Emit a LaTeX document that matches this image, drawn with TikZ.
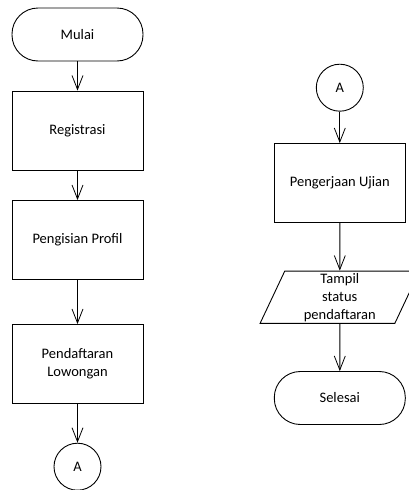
\documentclass[tikz,border=0pt]{standalone}
\usepackage{fontspec}
\setmainfont{Carlito}
\usetikzlibrary{arrows.meta,shapes.geometric}
\begin{document}
\begin{tikzpicture}[x=1pt,y=-1pt,line width=0.9pt,
    font=\fontsize{14.5}{18}\selectfont,
    terminal/.style={draw,rounded corners=26pt,minimum width=131pt,minimum height=53pt,inner sep=0pt},
    proses/.style={draw,minimum width=131pt,minimum height=79pt,align=center,inner sep=0pt},
    konektor/.style={draw,circle,minimum size=47pt,inner sep=0pt},
    data/.style={draw,trapezium,trapezium left angle=63,trapezium right angle=117,
      trapezium stretches body,minimum width=159.4pt,minimum height=52.3pt,align=center,inner sep=0pt}]
      \useasboundingbox (0,0) rectangle (408,490);
      \path
        (77.5,34.5) node[terminal] (mulai){Mulai}
        (77.5,130.5) node[proses] (reg){Registrasi}
        (77.5,240) node[proses] (profil){Pengisian Profil}
        (77.5,364) node[proses] (lowongan){Pendaftaran\\Lowongan}
        (77.5,466.7) node[konektor] (a1){A}
        (339.8,87.7) node[konektor] (a2){A}
        (339.8,183) node[proses] (ujian){Pengerjaan Ujian}
        (339.8,297.2) node[data] (status){Tampil\\status\\pendaftaran}
        (339.8,398) node[terminal] (selesai){Selesai};
      \begin{scope}[-{Straight Barb[length=14pt,width=11pt,line width=0.8pt]}]
        \draw (mulai) to (reg);
        \draw (reg) to (profil);
        \draw (profil) to (lowongan);
        \draw (lowongan) to (a1);
        \draw (a2) to (ujian);
        \draw (ujian) to (status);
        \draw (status) to (selesai);
      \end{scope}
    \end{tikzpicture}
\end{document}
